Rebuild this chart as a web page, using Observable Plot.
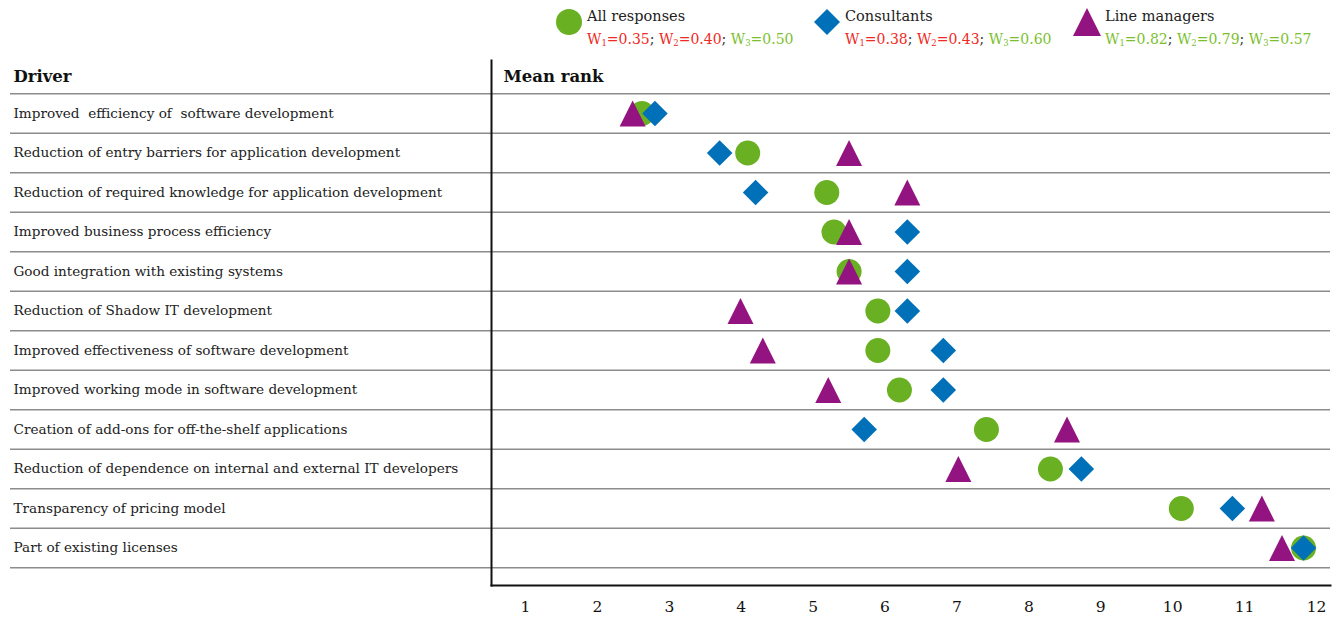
<!DOCTYPE html>
<html>
<head>
<meta charset="utf-8">
<script src="https://cdn.jsdelivr.net/npm/d3@7"></script>
<script src="https://cdn.jsdelivr.net/npm/@observablehq/plot@0.6"></script>
<style>
  html, body { margin: 0; padding: 0; background: #fff; }
  body { width: 1339px; height: 621px; overflow: hidden; font-family: "DejaVu Serif", Georgia, serif; color: #222; }
  #legend { position: relative; height: 56px; width: 1339px; }
  .item { position: absolute; top: 4px; }
  .item svg { position: absolute; left: 0; top: 4px; }
  .item .name { position: absolute; left: 32px; top: 4px; font-size: 14.5px; white-space: nowrap; }
  .item .w { position: absolute; left: 32px; top: 27px; font-size: 14px; white-space: nowrap; }
  .w sub { font-size: 8.5px; vertical-align: -2px; }
  .r { color: #ee2a24; } .g { color: #7cbf2e; } .s { color: #333; }
  #chart svg { display: block; }
</style>
</head>
<body>
<div id="legend"></div>
<div id="chart"></div>
<script>
const drivers = [
  "Improved  efficiency of  software development",
  "Reduction of entry barriers for application development",
  "Reduction of required knowledge for application development",
  "Improved business process efficiency",
  "Good integration with existing systems",
  "Reduction of Shadow IT development",
  "Improved effectiveness of software development",
  "Improved working mode in software development",
  "Creation of add-ons for off-the-shelf applications",
  "Reduction of dependence on internal and external IT developers",
  "Transparency of pricing model",
  "Part of existing licenses"
];
const allResponses = [2.62, 4.09, 5.19, 5.29, 5.50, 5.90, 5.90, 6.20, 7.41, 8.30, 10.12, 11.82];
const consultants  = [2.80, 3.70, 4.20, 6.31, 6.31, 6.31, 6.81, 6.81, 5.71, 8.73, 10.83, 11.82];
const lineManagers = [2.49, 5.50, 6.31, 5.50, 5.50, 3.99, 4.30, 5.21, 8.53, 7.02, 11.24, 11.52];
const xTicks = [1,2,3,4,5,6,7,8,9,10,11,12];

const seriesNames = ["All responses", "Consultants", "Line managers"];
const seriesColors = ["#6ab023", "#0070b8", "#931480"];
// W1, W2, W3 values and whether they are shown red (r) or green (g)
const weights = [
  [["0.35","r"],["0.40","r"],["0.50","g"]],
  [["0.38","r"],["0.43","r"],["0.60","g"]],
  [["0.82","g"],["0.79","g"],["0.57","g"]]
];
const legendLeft = [555, 813, 1073];

// custom taller triangle symbol
const tallTriangle = {
  draw(ctx, size) {
    const r = Math.sqrt(size / Math.PI);
    ctx.moveTo(0, -r);
    ctx.lineTo(r, r);
    ctx.lineTo(-r, r);
    ctx.closePath();
  }
};

// Legend
const legend = document.getElementById("legend");
const symPaths = [
  `<circle cx="14" cy="14" r="13" fill="${seriesColors[0]}"/>`,
  `<path d="M14 1 L27 14 L14 27 L1 14 Z" fill="${seriesColors[1]}"/>`,
  `<path d="M14 0 L28 28 L0 28 Z" fill="${seriesColors[2]}"/>`
];
seriesNames.forEach((name, i) => {
  const div = document.createElement("div");
  div.className = "item";
  div.style.left = legendLeft[i] + "px";
  const w = weights[i].map(([v, c], k) => `<span class="${c}">W<sub>${k+1}</sub>=${v}</span>`).join('<span class="s">; </span>');
  div.innerHTML = `<svg width="28" height="28">${symPaths[i]}</svg><div class="name">${name}</div><div class="w">${w}</div>`;
  legend.appendChild(div);
});

const rows = drivers.map((d, i) => i);
const separators = [-0.5, ...rows.map(i => i + 0.5)];
const mk = (vals) => vals.map((v, i) => ({x: v, y: i}));

const chart = Plot.plot({
  width: 1339,
  height: 565,
  marginLeft: 491,
  marginRight: 9,
  marginTop: 4,
  marginBottom: 36,
  style: { fontFamily: "'DejaVu Serif', Georgia, serif", color: "#222", background: "#fff" },
  x: { domain: [1, 12], range: [525, 1316], label: null },
  y: { domain: [-0.5, 11.5], range: [37.25, 511.25], axis: null },
  marks: [
    Plot.ruleY(separators, { y: d => d, stroke: "#8c8c8c", strokeWidth: 1.5, insetLeft: -481, clip: false }),
    Plot.frame({ anchor: "left", stroke: "#111", strokeWidth: 2 }),
    Plot.frame({ anchor: "bottom", stroke: "#111", strokeWidth: 2 }),
    Plot.axisX(xTicks, { anchor: "bottom", tickSize: 0, tickPadding: 15, fontSize: 15.5, tickFormat: d => String(d), fill: "#111", label: null }),
    Plot.text(drivers, { y: (d, i) => i, text: d => d, frameAnchor: "left", textAnchor: "start", dx: -478, fontSize: 13.6, fill: "#222" }),
    Plot.text(["Driver"], { frameAnchor: "top-left", text: d => d, textAnchor: "start", dx: -478, dy: 10, fontSize: 16.5, fontWeight: "bold", fill: "#111" }),
    Plot.text(["Mean rank"], { frameAnchor: "top-left", text: d => d, textAnchor: "start", dx: 12, dy: 10, fontSize: 16.5, fontWeight: "bold", fill: "#111" }),
    Plot.dot(mk(allResponses), { x: "x", y: "y", symbol: "circle", r: 12.5, fill: seriesColors[0] }),
    Plot.dot(mk(consultants), { x: "x", y: "y", symbol: "diamond2", r: 11.5, fill: seriesColors[1] }),
    Plot.dot(mk(lineManagers), { x: "x", y: "y", symbol: tallTriangle, r: 13, fill: seriesColors[2] })
  ]
});
document.getElementById("chart").appendChild(chart);
</script>
</body>
</html>
